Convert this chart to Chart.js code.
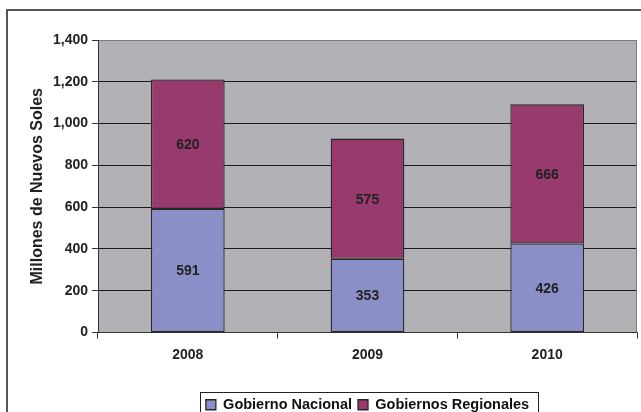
<html>
<head>
    <title>Gobierno Nacional y Gobiernos Regionales</title>
    <script src="https://cdn.jsdelivr.net/npm/chart.js"></script>
</head>
<style>
    body {
        margin: 0;
        background-color: #ffffff;
        overflow: hidden;
        width: 641px;
        height: 412px;
    }
</style>
<body>
    <div style="width: 641px; height: 422px;">
        <canvas id="myChart" width="641" height="422"></canvas>
    </div>

    <script>
        // datos
        const years = ['2008', '2009', '2010'];
        const nacional = [591, 353, 426];
        const regionales = [620, 575, 666];
        const seriesNames = ['Gobierno Nacional', 'Gobiernos Regionales'];

        const FONT = '"Liberation Sans", Arial, sans-serif';

        // fondo gris del area de trazado y marco exterior
        const frame = {
            id: 'frame',
            beforeDraw(chart) {
                const ctx = chart.ctx;
                const a = chart.chartArea;
                ctx.save();
                ctx.fillStyle = '#ffffff';
                ctx.fillRect(0, 0, chart.width, chart.height);
                ctx.strokeStyle = '#555555';
                ctx.lineWidth = 2;
                ctx.strokeRect(7, 10, 800, 600);
                ctx.fillStyle = '#b2b2b6';
                ctx.fillRect(a.left, a.top, a.right - a.left, a.bottom - a.top);
                ctx.restore();
            },
            afterDraw(chart) {
                const ctx = chart.ctx;
                const a = chart.chartArea;
                ctx.save();
                ctx.strokeStyle = '#7a7a7a';
                ctx.lineWidth = 1;
                ctx.beginPath();
                ctx.moveTo(a.right - 0.5, a.top);
                ctx.lineTo(a.right - 0.5, a.bottom);
                ctx.stroke();

                // recuadro de la leyenda
                const lg = chart.legend;
                const boxes = lg.legendHitBoxes;
                if (boxes && boxes.length) {
                    const first = boxes[0];
                    const last = boxes[boxes.length - 1];
                    const x0 = first.left - 6;
                    const x1 = last.left + last.width + 9;
                    ctx.strokeStyle = '#222222';
                    ctx.strokeRect(Math.round(x0) + 0.5, Math.round(lg.top) + 0.5,
                        Math.round(x1 - x0), 40);
                }
                ctx.restore();
            }
        };

        // valores dentro de cada segmento
        const valueLabels = {
            id: 'valueLabels',
            afterDatasetsDraw(chart) {
                const ctx = chart.ctx;
                ctx.save();
                ctx.font = 'bold 14px ' + FONT;
                ctx.fillStyle = '#222222';
                ctx.textAlign = 'center';
                ctx.textBaseline = 'middle';
                chart.data.datasets.forEach((ds, i) => {
                    chart.getDatasetMeta(i).data.forEach((bar, j) => {
                        const y = (bar.y + bar.base) / 2;
                        ctx.fillText(String(ds.data[j]), bar.x, y + 1);
                    });
                });
                ctx.restore();
            }
        };

        const data = {
            labels: years,
            datasets: [
                {
                    label: seriesNames[0],
                    data: nacional,
                    backgroundColor: '#8b8fc8',
                    borderColor: '#262626',
                    borderWidth: 1.3,
                    borderSkipped: false
                },
                {
                    label: seriesNames[1],
                    data: regionales,
                    backgroundColor: '#983a6e',
                    borderColor: '#262626',
                    borderWidth: 1.3,
                    borderSkipped: false
                }
            ]
        };

        const config = {
            type: 'bar',
            data: data,
            plugins: [frame, valueLabels],
            options: {
                responsive: false,
                animation: false,
                layout: {
                    padding: { top: 40, right: 4, left: 0, bottom: 0 }
                },
                datasets: {
                    bar: {
                        categoryPercentage: 1,
                        barPercentage: 0.41
                    }
                },
                scales: {
                    x: {
                        stacked: true,
                        offset: true,
                        grid: {
                            offset: true,
                            drawOnChartArea: false,
                            tickLength: 6,
                            tickColor: '#333333'
                        },
                        border: { color: '#333333' },
                        ticks: {
                            color: '#222222',
                            padding: 8,
                            font: { family: FONT, size: 14, weight: 'bold' }
                        },
                        afterFit: (s) => { s.height = 59; }
                    },
                    y: {
                        stacked: true,
                        min: 0,
                        max: 1400,
                        ticks: {
                            stepSize: 200,
                            color: '#222222',
                            padding: 4,
                            font: { family: FONT, size: 14, weight: 'bold' },
                            callback: (v) => v.toLocaleString('en-US')
                        },
                        grid: {
                            color: (c) => (c.tick && c.tick.value === 1400 ? '#7a7a7a' : '#1a1a1a'),
                            tickColor: '#333333',
                            tickLength: 6
                        },
                        border: { color: '#333333' },
                        title: {
                            display: true,
                            text: 'Millones de Nuevos Soles',
                            color: '#222222',
                            padding: { top: 28, bottom: 0 },
                            font: { family: FONT, size: 16, weight: 'bold' }
                        },
                        afterFit: (s) => { s.width = 98; }
                    }
                },
                plugins: {
                    legend: {
                        position: 'bottom',
                        fullSize: false,
                        labels: {
                            boxWidth: 10,
                            boxHeight: 10,
                            padding: 6,
                            color: '#111111',
                            font: { family: FONT, size: 14.5, weight: 'bold' }
                        }
                    },
                    tooltip: { enabled: false }
                }
            }
        };

        const myChart = new Chart(document.getElementById('myChart'), config);
    </script>
</body>
</html>
